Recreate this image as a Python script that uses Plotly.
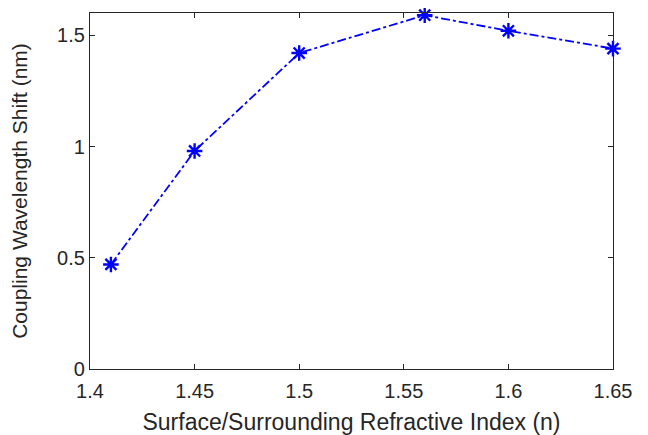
import plotly.graph_objects as go

refractive_index = [1.41, 1.45, 1.50, 1.56, 1.60, 1.65]
wavelength_shift = [0.47, 0.98, 1.42, 1.59, 1.52, 1.44]
x_ticks = [1.4, 1.45, 1.5, 1.55, 1.6, 1.65]
x_tick_labels = ["1.4", "1.45", "1.5", "1.55", "1.6", "1.65"]
y_ticks = [0, 0.5, 1, 1.5]
y_tick_labels = ["0", "0.5", "1", "1.5"]

FONT = "Liberation Sans, Arial"
fig = go.Figure()
fig.add_trace(go.Scatter(
    x=refractive_index, y=wavelength_shift, mode="lines+markers",
    line=dict(color="#0000ff", width=1.8, dash="dashdot"),
    marker=dict(symbol="asterisk-open", size=13, color="#0000ff",
                line=dict(color="#0000ff", width=2.4)),
    cliponaxis=False,
))

axis_common = dict(
    showline=True, linecolor="#262626", linewidth=1.2, mirror="ticks",
    ticks="inside", ticklen=5, tickcolor="#262626", showgrid=False, zeroline=False,
    tickfont=dict(family=FONT, size=20, color="#262626"), automargin=False,
)
fig.update_xaxes(range=[1.4, 1.65], tickvals=x_ticks, ticktext=x_tick_labels,
                 ticklabelstandoff=4,
                 title=dict(text="Surface/Surrounding Refractive Index (n)",
                            font=dict(family=FONT, size=23, color="#262626"),
                            standoff=12),
                 **axis_common)
fig.update_yaxes(range=[0, 1.6], tickvals=y_ticks, ticktext=y_tick_labels,
                 title=dict(text="Coupling Wavelength Shift (nm)",
                            font=dict(family=FONT, size=21, color="#262626"),
                            standoff=25),
                 **axis_common)
fig.update_layout(
    width=640, height=427, showlegend=False,
    margin=dict(l=82, r=35, t=5, b=66),
    plot_bgcolor="white", paper_bgcolor="white",
)
fig.write_html("out.html")
